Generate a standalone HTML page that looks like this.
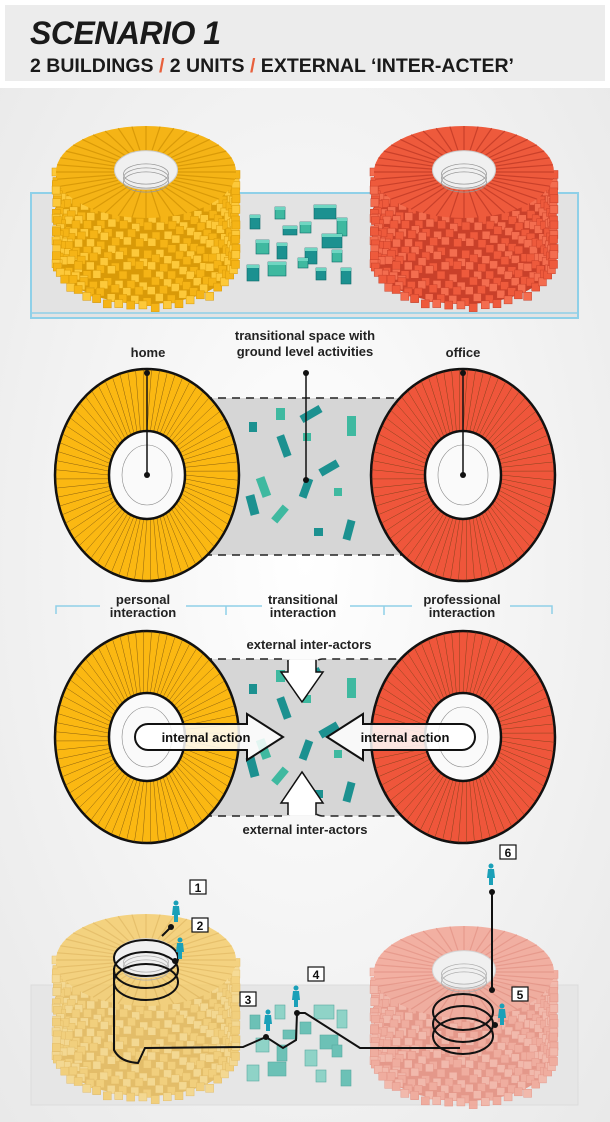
<!DOCTYPE html>
<html><head><meta charset="utf-8"><style>
html,body{margin:0;padding:0;background:#f2f2f2;}
svg{display:block}
text{font-family:"Liberation Sans",sans-serif;}
</style></head><body>
<svg id="s" width="610" height="1122" viewBox="0 0 610 1122" xmlns="http://www.w3.org/2000/svg">
<defs>
<radialGradient id="bg" cx="50%" cy="50%" r="70%"><stop offset="0" stop-color="#ffffff"/><stop offset="1" stop-color="#e9e9e9"/></radialGradient>
</defs>
<rect width="610" height="1122" fill="url(#bg)"/>
<rect x="0" y="0" width="610" height="88" fill="#ffffff"/>
<rect x="5" y="5" width="600" height="76" fill="#ececec"/>
<text x="30" y="44" font-size="32" font-weight="bold" font-style="italic" fill="#1a1a1a" style="letter-spacing:-0.5px">SCENARIO 1</text>
<text x="30" y="72" font-size="19.5" font-weight="bold" fill="#1a1a1a">2 BUILDINGS <tspan fill="#e8603c">/</tspan> 2 UNITS <tspan fill="#e8603c">/</tspan> EXTERNAL ‘INTER-ACTER’</text>

<!-- top panel -->
<rect x="31" y="193" width="547" height="125" fill="#e3e3e3" stroke="#8fd0e8" stroke-width="2"/>
<line x1="31" y1="313" x2="578" y2="313" stroke="#8fd0e8" stroke-width="1.5"/>
<g id="top3d"></g>
<g id="mid"></g>

<!-- labels section 2 -->
<text x="148" y="357" font-size="13" font-weight="bold" text-anchor="middle" fill="#222">home</text>
<text x="305" y="340" font-size="13" font-weight="bold" text-anchor="middle" fill="#222">transitional space with</text>
<text x="305" y="356" font-size="13" font-weight="bold" text-anchor="middle" fill="#222">ground level activities</text>
<text x="463" y="357" font-size="13" font-weight="bold" text-anchor="middle" fill="#222">office</text>

<!-- interaction brackets -->
<g stroke="#8fd0e8" stroke-width="1.5" fill="none">
<polyline points="56,614 56,606 100,606"/><line x1="186" y1="606" x2="256" y2="606"/>
<line x1="226" y1="606" x2="226" y2="615"/>
<line x1="350" y1="606" x2="412" y2="606"/>
<line x1="384" y1="606" x2="384" y2="615"/>
<polyline points="510,606 552,606 552,614"/>
<line x1="256" y1="606" x2="262" y2="606"/>
</g>
<text x="143" y="604" font-size="13" font-weight="bold" text-anchor="middle" fill="#222">personal</text>
<text x="143" y="617" font-size="13" font-weight="bold" text-anchor="middle" fill="#222">interaction</text>
<text x="303" y="604" font-size="13" font-weight="bold" text-anchor="middle" fill="#222">transitional</text>
<text x="303" y="617" font-size="13" font-weight="bold" text-anchor="middle" fill="#222">interaction</text>
<text x="462" y="604" font-size="13" font-weight="bold" text-anchor="middle" fill="#222">professional</text>
<text x="462" y="617" font-size="13" font-weight="bold" text-anchor="middle" fill="#222">interaction</text>
<text x="309" y="649" font-size="13" font-weight="bold" text-anchor="middle" fill="#222">external inter-actors</text>
<text x="305" y="834" font-size="13" font-weight="bold" text-anchor="middle" fill="#222">external inter-actors</text>

<!-- bottom panel -->
<rect x="31" y="985" width="547" height="120" fill="#e6e6e6" stroke="#dcdcdc"/>
<g id="bot"></g>
</svg>
<script>
var NS="http://www.w3.org/2000/svg";
function el(p,t,a){var e=document.createElementNS(NS,t);for(var k in a)e.setAttribute(k,a[k]);p.appendChild(e);return e;}
var s=document.getElementById('s');
function rnd(i){var x=Math.sin(i*999.7)*10000;return x-Math.floor(x);}

function cyl(g,cx,ty,by,rx,ry,c1,c2,c3,op){
  var G=el(g,'g',{opacity:op});
  // body
  el(G,'path',{d:'M'+(cx-rx)+','+ty+' L'+(cx-rx)+','+by+' A'+rx+','+ry+' 0 0 0 '+(cx+rx)+','+by+' L'+(cx+rx)+','+ty+' Z',fill:c2});
  // staggered blocks
  for(var r=0;r<12;r++){
    var y=ty+r*(by-ty)/11;
    for(var i=0;i<24;i++){
      var a=Math.PI*(i/23)+r*0.09;
      if(a>Math.PI)a-=Math.PI;
      var x=cx-rx*Math.cos(a);
      var yy=y+ry*Math.sin(a)+rnd(r*30+i)*6;
      el(G,'rect',{x:x-4,y:yy-4,width:8,height:8,fill:(i%2?c1:c3),stroke:c2,'stroke-width':0.5});
    }
  }
  // top
  el(G,'ellipse',{cx:cx,cy:ty,rx:rx,ry:ry,fill:c1});
  for(var i=0;i<40;i++){var a=i/40*Math.PI*2;
    el(G,'line',{x1:cx+rx*0.35*Math.cos(a),y1:ty+ry*0.4*Math.sin(a),x2:cx+rx*Math.cos(a),y2:ty+ry*Math.sin(a),stroke:c2,'stroke-width':1.2});}
  el(G,'ellipse',{cx:cx,cy:ty-2,rx:rx*0.35,ry:ry*0.42,fill:'#f0f0f0',stroke:'#ccc'});
  for(var k=0;k<3;k++)el(G,'ellipse',{cx:cx,cy:ty+2+k*4,rx:rx*0.25,ry:ry*0.22,fill:'none',stroke:'#999','stroke-width':0.8});
}
var t=document.getElementById('top3d');
cyl(t,146,172,258,90,46,'#f5b416','#d99a08','#fdc93a',1);
cyl(t,464,172,258,90,46,'#ee5a3c','#c9402a','#f46d4f',1);
var boxes=[[250,215,10,14,'#1c9190'],[275,207,10,12,'#3fb9a0'],[283,226,14,9,'#1c9190'],[314,205,22,14,'#1c9190'],[300,222,11,11,'#3fb9a0'],[337,218,10,18,'#3fb9a0'],[322,234,20,14,'#1c9190'],[256,240,13,14,'#3fb9a0'],[277,243,10,16,'#1c9190'],[305,248,12,16,'#1c9190'],[332,250,10,12,'#3fb9a0'],[247,265,12,16,'#1c9190'],[268,262,18,14,'#3fb9a0'],[316,268,10,12,'#1c9190'],[341,268,10,16,'#1c9190'],[298,258,10,10,'#3fb9a0']];
boxes.forEach(function(b){el(t,'rect',{x:b[0],y:b[1],width:b[2],height:b[3],fill:b[4],stroke:'#0e6a6a','stroke-width':0.6});el(t,'rect',{x:b[0],y:b[1],width:b[2],height:3,fill:'#6fd6c2'});});

function ring(g,cx,cy,col){
  el(g,'ellipse',{cx:cx,cy:cy,rx:92,ry:106,fill:col,stroke:'#111','stroke-width':2.5});
  for(var i=0;i<72;i++){var a=i/72*Math.PI*2;
    el(g,'line',{x1:cx+38*Math.cos(a),y1:cy+44*Math.sin(a),x2:cx+92*Math.cos(a+0.05),y2:cy+106*Math.sin(a+0.05),stroke:'#5a3a10','stroke-width':0.5,opacity:0.7});}
  el(g,'ellipse',{cx:cx,cy:cy,rx:38,ry:44,fill:'#fafafa',stroke:'#111','stroke-width':2.5});
  el(g,'ellipse',{cx:cx,cy:cy,rx:25,ry:30,fill:'none',stroke:'#888','stroke-width':0.6});
}
function blocks(g,dy){
  var b=[[249,442,8,10,0,'#1c9190'],[276,428,9,12,0,'#3fb9a0'],[280,455,8,22,-20,'#1c9190'],[307,423,8,22,60,'#1c9190'],[303,453,8,8,0,'#3fb9a0'],[347,436,9,20,0,'#3fb9a0'],[325,478,8,20,60,'#1c9190'],[259,497,9,20,-20,'#3fb9a0'],[302,498,8,20,20,'#1c9190'],[334,508,8,8,0,'#3fb9a0'],[248,515,9,20,-15,'#1c9190'],[276,525,8,18,40,'#3fb9a0'],[314,548,9,8,0,'#1c9190'],[345,540,8,20,15,'#1c9190']];
  b.forEach(function(r){el(g,'rect',{x:r[0],y:r[1]+dy-20,width:r[2],height:r[3],fill:r[5],transform:'rotate('+r[4]+' '+(r[0]+r[2]/2)+' '+(r[1]+dy-20+r[3]/2)+')'});});
}
var m=document.getElementById('mid');
// section 2
el(m,'rect',{x:190,y:398,width:230,height:157,fill:'#d6d6d6'});
el(m,'line',{x1:190,y1:398,x2:420,y2:398,stroke:'#222','stroke-width':1.5,'stroke-dasharray':'8,6'});
el(m,'line',{x1:190,y1:555,x2:420,y2:555,stroke:'#222','stroke-width':1.5,'stroke-dasharray':'8,6'});
blocks(m,0);
ring(m,147,475,'#fbb812');ring(m,463,475,'#ef563b');
[[147,373,147,475],[306,373,306,480],[463,373,463,475]].forEach(function(l){
  el(m,'line',{x1:l[0],y1:l[1],x2:l[2],y2:l[3],stroke:'#111','stroke-width':1.5});
  el(m,'circle',{cx:l[0],cy:l[1],r:3,fill:'#111'});el(m,'circle',{cx:l[2],cy:l[3],r:3,fill:'#111'});});
// section 3
el(m,'rect',{x:190,y:659,width:230,height:157,fill:'#d6d6d6'});
blocks(m,262);
// cutouts
el(m,'path',{d:'M290,659 Q292,670 285,675 L302,702 L320,675 Q313,670 315,659 Z',fill:'#f5f5f5'});
el(m,'path',{d:'M290,816 Q292,803 285,800 L302,772 L320,800 Q313,803 315,816 Z',fill:'#f5f5f5'});
el(m,'path',{d:'M190,659 L282,659 Q292,660 290,672 L282,673 L302,702 L322,673 L314,672 Q312,660 322,659 L420,659',fill:'none',stroke:'#222','stroke-width':1.5,'stroke-dasharray':'8,6'});
el(m,'path',{d:'M190,816 L282,816 Q292,815 290,803 L282,802 L302,772 L322,802 L314,803 Q312,815 322,816 L420,816',fill:'none',stroke:'#222','stroke-width':1.5,'stroke-dasharray':'8,6'});
ring(m,147,737,'#fbb812');ring(m,463,737,'#ef563b');
// arrows
el(m,'path',{d:'M148,724 L247,724 L247,714 L283,737 L247,760 L247,750 L148,750 A13,13 0 0 1 148,724 Z',fill:'rgba(255,255,255,0.85)',stroke:'#111','stroke-width':2});
el(m,'path',{d:'M462,724 L363,724 L363,714 L327,737 L363,760 L363,750 L462,750 A13,13 0 0 0 462,724 Z',fill:'rgba(255,255,255,0.85)',stroke:'#111','stroke-width':2});
el(m,'path',{d:'M288,660 L288,672 L281,672 L302,702 L323,672 L316,672 L316,660',fill:'#fff',stroke:'#111','stroke-width':1.5});
el(m,'path',{d:'M288,815 L288,803 L281,803 L302,772 L323,803 L316,803 L316,815',fill:'#fff',stroke:'#111','stroke-width':1.5});
var tx=el(m,'text',{x:206,y:742,'font-size':13,'font-weight':'bold','text-anchor':'middle',fill:'#111'});tx.textContent='internal action';
var tx2=el(m,'text',{x:405,y:742,'font-size':13,'font-weight':'bold','text-anchor':'middle',fill:'#111'});tx2.textContent='internal action';

// bottom
var b=document.getElementById('bot');
cyl(b,146,960,1050,90,46,'#f5c85a','#e3b040','#f8d477',0.75);
cyl(b,464,972,1055,90,46,'#f29a88','#e47e6c','#f5aa99',0.75);
var bb=[[250,1015,10,14],[275,1005,10,14],[283,1030,14,9],[314,1005,20,14],[300,1022,11,12],[337,1010,10,18],[320,1035,18,14],[256,1038,13,14],[277,1045,10,16],[305,1050,12,16],[332,1045,10,12],[247,1065,12,16],[268,1062,18,14],[316,1070,10,12],[341,1070,10,16]];
bb.forEach(function(r,i){el(b,'rect',{x:r[0],y:r[1],width:r[2],height:r[3],fill:i%2?'#8fd3c7':'#6cc1b6',stroke:'#5aa9a0','stroke-width':0.6});});
// coils
var L=el(b,'g',{fill:'none',stroke:'#111','stroke-width':2});
for(var k=0;k<3;k++)el(L,'ellipse',{cx:146,cy:958+k*12,rx:32,ry:18});
el(L,'polyline',{points:'162,936 171,927',fill:'none'});
el(L,'path',{d:'M114,968 L114,1050 Q120,1062 138,1063 L145,1048 L243,1047 L266,1037 L283,1048 L296,1040 L297,1013 L305,1013 L360,1048 L460,1048'});
for(var k=0;k<3;k++)el(L,'ellipse',{cx:463,cy:1012+k*12,rx:30,ry:18});
el(L,'line',{x1:492,y1:892,x2:492,y2:992});
[[171,927],[175,961],[266,1037],[297,1013],[492,892],[492,990],[495,1025]].forEach(function(p){el(b,'circle',{cx:p[0],cy:p[1],r:3,fill:'#111'});});
function person(x,y){el(b,'circle',{cx:x,cy:y,r:2.5,fill:'#1aa0b8'});el(b,'path',{d:'M'+(x-3)+','+(y+3)+' L'+(x+3)+','+(y+3)+' L'+(x+4)+','+(y+12)+' L'+(x-4)+','+(y+12)+' Z',fill:'#1aa0b8'});el(b,'rect',{x:x-2,y:y+12,width:4,height:7,fill:'#1aa0b8'});}
person(176,903);person(180,940);person(268,1012);person(296,988);person(502,1006);person(491,866);
function tag(x,y,n){el(b,'rect',{x:x,y:y,width:16,height:14,fill:'#fff',stroke:'#111','stroke-width':1.2});var t=el(b,'text',{x:x+8,y:y+12,'font-size':12,'font-weight':'bold','text-anchor':'middle',fill:'#111'});t.textContent=n;}
tag(190,880,'1');tag(192,918,'2');tag(240,992,'3');tag(308,967,'4');tag(512,987,'5');tag(500,845,'6');
</script>
</body></html>
